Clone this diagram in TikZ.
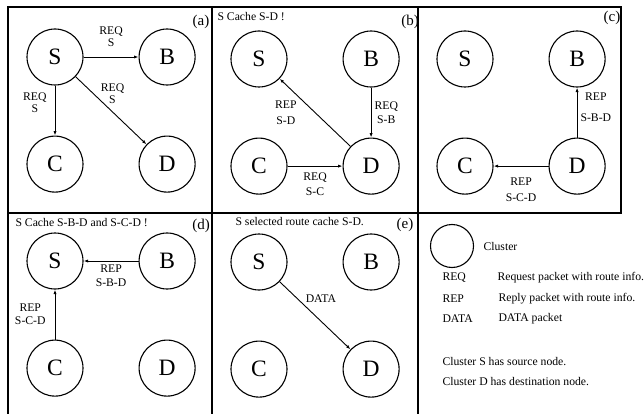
\documentclass[tikz,border=0pt]{standalone}
\usepackage{fontspec}
\setmainfont{Liberation Serif}
\usetikzlibrary{arrows.meta,positioning}

\begin{document}
\begin{tikzpicture}[
				x=1pt, y=-1pt,
				node distance=50pt and 55pt,
				every node/.style={font=\fontsize{11.7}{12}\selectfont},
				cluster/.style={
					draw=black,
					circle,
					minimum size=56pt,
					inner sep=0pt,
					line width=1.1pt,
					font=\fontsize{23.5}{24}\selectfont
				},
				arrow/.style={
					-{Latex[length=4.5pt,width=3.2pt]},
					line width=0.9pt
				},
				note/.style={align=center, inner sep=2pt},
				frame/.style={line width=1.4pt},
				paneltag/.style={font=\fontsize{15}{15}\selectfont}
				]
				\useasboundingbox (0,0) rectangle (644,414);
				
				% panel frames
				\draw[frame] (8,7) rectangle (621,213);
				\draw[frame] (212,7) -- (212,416) (418,7) -- (418,416) (8,213) -- (8,416);
				
				% (a) request flooding
				\node[cluster] (aS) at (55,57) {S};
				\node[cluster,right=of aS] (aB) {B};
				\node[cluster,below=of aS] (aC) {C};
				\node[cluster,right=of aC] (aD) {D};
				\node[paneltag] (atag) at (201,22) {(a)};
				
				\draw[arrow] (aS) -- node[note,above=8pt] {REQ\\S} (aB);
				\draw[arrow] (aS) -- node[note,pos=0.35,left=6pt] {REQ\\S} (aC);
				\draw[arrow] (aS) -- node[note,near start,right=5pt] {REQ\\S} (aD);
				
				% (b)
				\node[cluster] (bS) at (259,59) {S};
				\node[cluster,right=of bS] (bB) {B};
				\node[cluster,below=of bS] (bC) {C};
				\node[cluster,right=of bC] (bD) {D};
				\node[paneltag] (btag) at (410,22) {(b)};
				\node[anchor=west] (btitle) at (214,17) {S Cache S-D !};
				
				\draw[arrow] (bD) -- node[note,left=16pt] {REP\\[4pt]S-D} (bS);
				\draw[arrow] (bB) -- node[note,right=1pt] {REQ\\[2pt]S-B} (bD);
				\draw[arrow] (bC) -- node[note,below=4pt] {REQ\\[3pt]S-C} (bD);
				
				% (c)
				\node[cluster] (cS) at (465,59) {S};
				\node[cluster,right=of cS] (cB) {B};
				\node[cluster,below=of cS] (cC) {C};
				\node[cluster,right=of cC] (cD) {D};
				\node[paneltag] (ctag) at (612,18) {(c)};
				
				\draw[arrow] (cD) -- node[note,pos=0.6,right=1pt] {REP\\[9pt]S-B-D} (cB);
				\draw[arrow] (cD) -- node[note,below=9pt] {REP\\[4pt]S-C-D} (cC);
				
				% (d)
				\node[cluster] (dS) at (55,261) {S};
				\node[cluster,right=of dS] (dB) {B};
				\node[cluster,below=of dS] (dC) {C};
				\node[cluster,right=of dC] (dD) {D};
				\node[paneltag] (dtag) at (201,226) {(d)};
				\node[anchor=west] (dtitle) at (12,223) {S Cache S-B-D and S-C-D !};
				
				\draw[arrow] (dB) -- node[note,below=1pt] {REP\\[2pt]S-B-D} (dS);
				\draw[arrow] (dC) -- node[note,left=7pt] {REP\\[1pt]S-C-D} (dS);
				
				% (e)
				\node[cluster] (eS) at (259,262) {S};
				\node[cluster,right=of eS] (eB) {B};
				\node[cluster,below=of eS] (eC) {C};
				\node[cluster,right=of eC] (eD) {D};
				\node[paneltag] (etag) at (405,225) {(e)};
				\node[anchor=west] (etitle) at (232,222) {S selected route cache S-D.};
				
				\draw[arrow] (eS) -- node[note,near start,right=6pt] {DATA} (eD);
				
				% legend
				\node[cluster,minimum size=43pt] (key) at (452,246) {};
				\node[right=6pt of key] (keytxt) {Cluster};
				
				\node[anchor=west] (req) at (439,278) {REQ};
				\node[anchor=west] (reqtxt) at (494,278) {Request packet with route info.};
				\node[anchor=west] (rep) at (439,299) {REP};
				\node[anchor=west] (reptxt) at (495,299) {Reply packet with route info.};
				\node[anchor=west] (data) at (439,319) {DATA};
				\node[anchor=west] (datatxt) at (495,319) {DATA packet};
				
				\node[anchor=west] (src) at (439,362) {Cluster S has source node.};
				\node[anchor=west] (dst) at (439,382) {Cluster D has destination node.};
			\end{tikzpicture}
\end{document}
